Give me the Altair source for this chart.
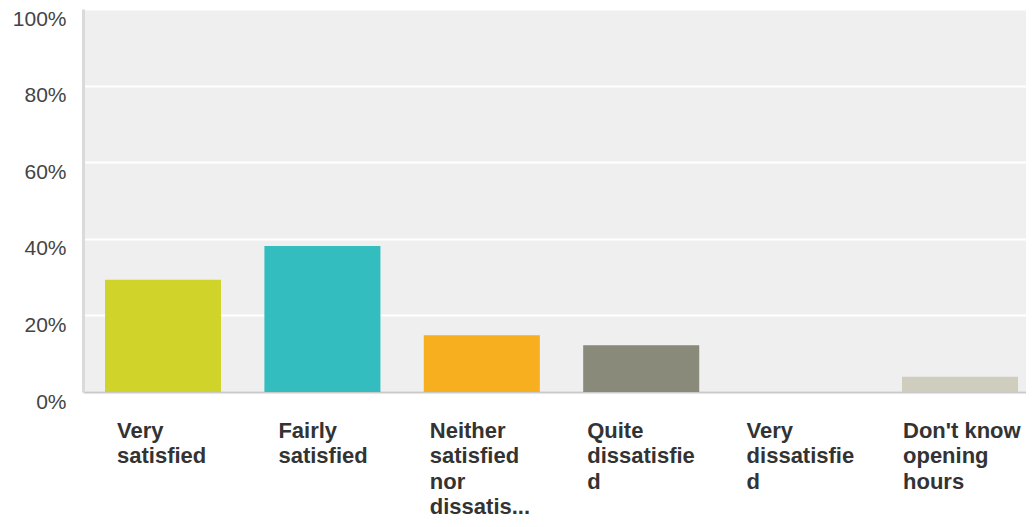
import json
import altair as alt
import pandas as pd

# ---- data ----
categories = [
    "Very satisfied",
    "Fairly satisfied",
    "Neither satisfied nor dissatis...",
    "Quite dissatisfied",
    "Very dissatisfied",
    "Don't know opening hours",
]
percent = [29.3, 38.1, 14.8, 12.2, 0.0, 4.0]
label_lines = [
    ["Very", "satisfied"],
    ["Fairly", "satisfied"],
    ["Neither", "satisfied", "nor", "dissatis..."],
    ["Quite", "dissatisfie", "d"],
    ["Very", "dissatisfie", "d"],
    ["Don't know", "opening", "hours"],
]
y_ticks = [0, 20, 40, 60, 80, 100]

# ---- styling ----
colors = ["#d0d32a", "#34bdbf", "#f7ae1f", "#898a7a", "#e06b3c", "#cfcdbd"]
label_shift = [-46, -44, -52, -54, -54, -57]

df = pd.DataFrame({"category": categories, "percent": percent})

idx = f"indexof({json.dumps(categories)}, datum.value)"
x_label_expr = f"{json.dumps(label_lines)}[{idx}]"
x_label_offset = {"expr": f"{json.dumps(label_shift)}[{idx}]"}

chart = (
    alt.Chart(df)
    .mark_bar()
    .encode(
        x=alt.X(
            "category:N",
            sort=categories,
            scale=alt.Scale(paddingInner=0.272, paddingOuter=0.094, align=0.734),
            axis=alt.Axis(
                title=None,
                labelExpr=x_label_expr,
                labelOffset=x_label_offset,
                labelAngle=0,
                labelAlign="left",
                labelBaseline="alphabetic",
                labelPadding=45,
                labelFont="Liberation Sans",
                labelFontSize=22,
                labelFontWeight="bold",
                labelColor="#333333",
                labelLineHeight=25.5,
                labelLimit=400,
                ticks=False,
                tickSize=0,
                domainColor="#c9c9c9",
                domainWidth=2,
                grid=False,
            ),
        ),
        y=alt.Y(
            "percent:Q",
            scale=alt.Scale(domain=[0, 100], nice=False),
            axis=alt.Axis(
                title=None,
                values=y_ticks,
                labelExpr="datum.value + '%'",
                labelFont="Liberation Sans",
                labelFontSize=21,
                labelColor="#444444",
                labelPadding=17,
                labelOffset=10,
                labelBaseline="middle",
                ticks=False,
                tickSize=0,
                domainColor="#dadada",
                domainWidth=3,
                gridColor="#ffffff",
                gridWidth=2,
            ),
        ),
        color=alt.Color(
            "category:N",
            scale=alt.Scale(domain=categories, range=colors),
            legend=None,
        ),
    )
    .properties(
        width=943,
        height=383,
        autosize=alt.AutoSizeParams(type="none"),
        padding={"left": 75, "top": 1, "right": 0, "bottom": 127},
    )
    .configure_view(fill="#efefef", strokeWidth=0)
)

chart.save("out.html", embed_options={"renderer": "svg", "actions": False})
